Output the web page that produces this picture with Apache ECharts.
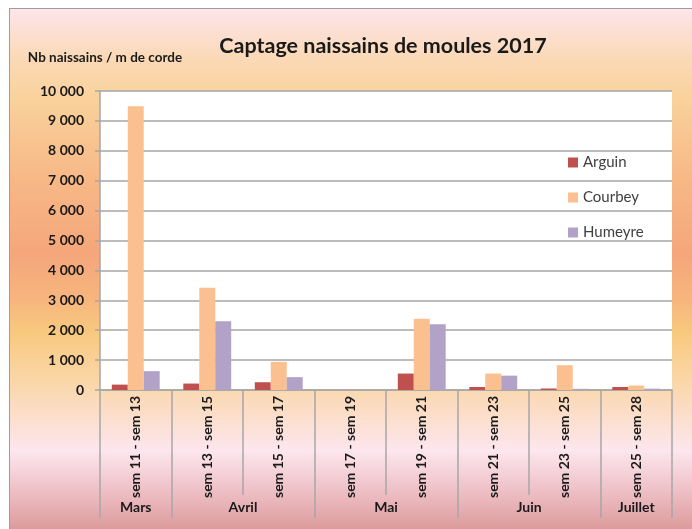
<!DOCTYPE html>
<html>
<head>
<meta charset="utf-8">
<script src="https://cdn.jsdelivr.net/npm/echarts@6/dist/echarts.min.js"></script>
<style>
  html, body { margin: 0; padding: 0; background: #ffffff; overflow: hidden; }
  #frame {
    position: absolute; left: 9px; top: 8px; width: 700px; height: 540px;
    border: 1px solid #9c9c9c;
    background: linear-gradient(to bottom,
      #fde5ea 0px, #fbd9b6 50px, #f9d29c 88px, #f7b886 170px, #f5a67b 245px,
      #f7b57e 290px, #f8c87e 322px, #fad6a6 370px, #fde6ee 442px, #eab8bd 490px, #dc9a9c 521px);
  }
  #chart { position: absolute; left: 0; top: 0; width: 692px; height: 529px; }
</style>
</head>
<body>
<div id="frame"></div>
<div id="chart"></div>
<script>
// Two-week sampling periods and the months they fall in
const periods = ['sem 11 - sem 13', 'sem 13 - sem 15', 'sem 15 - sem 17', 'sem 17 - sem 19',
                 'sem 19 - sem 21', 'sem 21 - sem 23', 'sem 23 - sem 25', 'sem 25 - sem 28'];
const months = ['Mars', 'Avril', 'Mai', 'Juin', 'Juillet'];
const monthSpans = [1, 2, 2, 2, 1];   // number of periods per month

// Spat counts per metre of rope, by site
const arguin  = [180, 215, 260, 0, 550, 100, 50, 100];
const courbey = [9490, 3420, 940, 0, 2380, 550, 830, 150];
const humeyre = [630, 2300, 430, 0, 2200, 480, 40, 45];

const yTicks = { min: 0, max: 10000, step: 1000 };

// Month group boundaries and centres on the period scale
const monthEdges = [0];
monthSpans.forEach(s => monthEdges.push(monthEdges[monthEdges.length - 1] + s));
const monthCentres = months.map((m, i) => (monthEdges[i] + monthEdges[i + 1]) / 2);

const FONT = 'Lato, "Open Sans", sans-serif';
const GRID_GREY = '#a6a6a6';

const chart = echarts.init(document.getElementById('chart'), null, { renderer: 'canvas' });

chart.setOption({
  animation: false,
  textStyle: { fontFamily: FONT },
  title: {
    text: 'Captage naissains de moules 2017',
    left: 378, top: 30, textAlign: 'center',
    textStyle: { fontFamily: FONT, fontSize: 21.5, fontWeight: 'bold', color: '#1a1a1a' }
  },
  legend: {
    orient: 'vertical',
    left: 568, top: 155, padding: 0,
    itemWidth: 10, itemHeight: 10, itemGap: 20,
    icon: 'rect',
    textStyle: { fontFamily: FONT, fontSize: 15, color: '#404040' },
    data: ['Arguin', 'Courbey', 'Humeyre']
  },
  grid: {
    left: 100, right: 20, top: 91, bottom: 139,
    show: true, backgroundColor: '#ffffff', borderWidth: 0
  },
  xAxis: [
    {
      type: 'category',
      data: periods,
      boundaryGap: true,
      axisLine: { show: true, lineStyle: { color: GRID_GREY, width: 1.5 } },
      axisTick: { show: true, interval: 0, length: 105, lineStyle: { color: GRID_GREY, width: 1.5 } },
      axisLabel: {
        interval: 0, rotate: 90, margin: 6,
        fontFamily: FONT, fontSize: 14, fontWeight: 'bold', color: '#1a1a1a'
      }
    },
    {
      type: 'value',
      min: 0, max: periods.length,
      position: 'bottom',
      axisLine: { show: false },
      splitLine: { show: false },
      axisTick: {
        show: true, length: 128, customValues: monthEdges,
        lineStyle: { color: GRID_GREY, width: 1.5 }
      },
      axisLabel: {
        customValues: monthCentres, margin: 110,
        formatter: v => months[monthCentres.indexOf(v)],
        fontFamily: FONT, fontSize: 14, fontWeight: 'bold', color: '#1a1a1a'
      }
    }
  ],
  yAxis: {
    type: 'value',
    min: yTicks.min, max: yTicks.max, interval: yTicks.step,
    name: 'Nb naissains / m de corde',
    nameLocation: 'end', nameGap: 26,
    nameTextStyle: { fontFamily: FONT, fontSize: 13.5, fontWeight: 'bold', color: '#1a1a1a', align: 'center', padding: [0, 0, 0, 10] },
    axisLine: { show: true, lineStyle: { color: GRID_GREY, width: 1.5 } },
    axisTick: { show: true, length: 5, lineStyle: { color: GRID_GREY, width: 1.5 } },
    splitLine: { show: true, lineStyle: { color: GRID_GREY, width: 1.5 } },
    axisLabel: {
      margin: 16,
      fontFamily: FONT, fontSize: 14, fontWeight: 'bold', color: '#1a1a1a',
      formatter: v => String(v).replace(/\B(?=(\d{3})+(?!\d))/g, '\u00a0')
    }
  },
  series: [
    { name: 'Arguin',  type: 'bar', data: arguin,  itemStyle: { color: '#c0504d' }, barGap: '0%', barCategoryGap: '33%' },
    { name: 'Courbey', type: 'bar', data: courbey, itemStyle: { color: '#fac090' }, barGap: '0%', barCategoryGap: '33%' },
    { name: 'Humeyre', type: 'bar', data: humeyre, itemStyle: { color: '#b3a2c7' }, barGap: '0%', barCategoryGap: '33%' }
  ]
});
</script>
</body>
</html>
